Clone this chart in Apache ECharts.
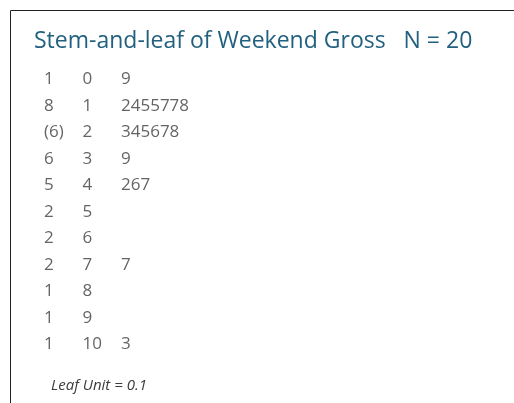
<!DOCTYPE html>
<html>
<head>
<meta charset="utf-8">
<script src="https://cdn.jsdelivr.net/npm/echarts@6/dist/echarts.min.js"></script>
<style>
  html, body { margin: 0; padding: 0; background: #fff; }
  #chart { width: 514px; height: 403px; }
</style>
</head>
<body>
<div id="chart"></div>
<script>
// Stem-and-leaf display of weekend gross (leaf unit = 0.1)
const stems  = ['0', '1', '2', '3', '4', '5', '6', '7', '8', '9', '10'];
const depths = ['1', '8', '(6)', '6', '5', '2', '2', '2', '1', '1', '1'];
const leaves = ['9', '2455778', '345678', '9', '267', '', '', '7', '', '', '3'];
const columns = ['depth', 'stem', 'leaves'];
const titleText = 'Stem-and-leaf of Weekend Gross   N = 20';
const footText = 'Leaf Unit = 0.1';

const FONT = '"Open Sans", "Noto Sans", sans-serif';
const TEXT_COLOR = '#3c3c3c';

// one text column: each row's string is placed at (column, row) on the grid
function columnSeries(colIndex, texts) {
  return {
    type: 'scatter',
    symbolSize: 0,
    silent: true,
    data: texts.map((t, i) => ({ value: [colIndex, i], text: t })),
    label: {
      show: true,
      position: 'right',
      distance: 0,
      formatter: p => p.data.text,
      fontFamily: FONT,
      fontSize: 17,
      color: TEXT_COLOR
    }
  };
}

const chart = echarts.init(document.getElementById('chart'), null, { renderer: 'canvas' });
chart.setOption({
  animation: false,
  backgroundColor: '#fff',
  title: [{
    text: titleText,
    left: 29,
    top: 25,
    textStyle: { fontFamily: FONT, fontSize: 23, fontWeight: 'normal', color: '#22607f' }
  }, {
    text: footText,
    left: 46,
    top: 373,
    textStyle: { fontFamily: FONT, fontSize: 15, fontStyle: 'italic', fontWeight: 'normal', color: TEXT_COLOR }
  }],
  graphic: [{
    type: 'polyline',
    shape: { points: [[10.5, 403], [10.5, 10.5], [514, 10.5]] },
    style: { stroke: '#222', lineWidth: 1, fill: null }
  }],
  grid: { left: 44, right: 514 - 121, top: 79.5, bottom: 403 - 344.5 },
  xAxis: {
    type: 'value', min: 0, max: columns.length - 1,
    show: false
  },
  yAxis: {
    type: 'value', min: 0, max: stems.length - 1, inverse: true,
    show: false
  },
  series: [
    columnSeries(0, depths),
    columnSeries(1, stems),
    columnSeries(2, leaves)
  ]
});
</script>
</body>
</html>
